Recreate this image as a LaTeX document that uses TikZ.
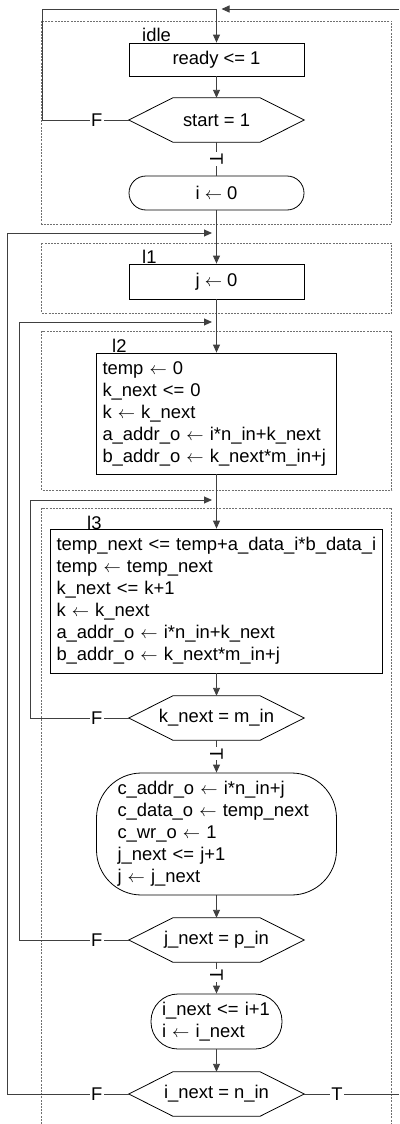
\documentclass[tikz,border=0pt]{standalone}
\usepackage{fontspec}
\setmainfont{Liberation Sans}
\usetikzlibrary{arrows.meta}
\definecolor{lineclr}{HTML}{404040}
\definecolor{grpclr}{HTML}{707070}
\newcommand\la{$\leftarrow$}
\newcommand\hexdraw[1]{\draw[boxline] (#1.west) -- ([xshift=44pt]#1.north west) -- ([xshift=-44pt]#1.north east) -- (#1.east) -- ([xshift=-44pt]#1.south east) -- ([xshift=44pt]#1.south west) -- cycle;}
\tikzset{
  every node/.style={font=\fontsize{18.4}{22}\selectfont},
  boxline/.style={draw=black, line width=0.8pt},
  box/.style={boxline, inner sep=0pt},
  rbox/.style={boxline, inner sep=0pt},
  hexn/.style={inner sep=0pt, minimum width=175pt, minimum height=44pt},
  flow/.style={draw=lineclr, line width=0.9pt},
  arr/.style={flow, -{Triangle[length=8pt,width=7pt]}},
  grp/.style={draw=grpclr, line width=0.7pt, dash pattern=on 2pt off 1.2pt},
  lbl/.style={fill=white, inner sep=1.5pt},
  tmark/.style={fill=white, inner sep=1pt, rotate=-90},
  tag/.style={anchor=west, inner sep=0pt}
}
\begin{document}
\begin{tikzpicture}[x=1pt,y=-1pt]
\useasboundingbox (0,0) rectangle (399,1124);
% groups
\draw[grp] (41.7,21) rectangle (391.7,224);
\draw[grp] (41.7,243) rectangle (391.7,313);
\draw[grp] (41.7,331) rectangle (391.7,490);
\draw[grp] (41.7,1124) -- (41.7,508) -- (391.7,508) -- (391.7,1124);
\node[tag] (tidle) at (142,35) {idle};
\node[tag] (tl1) at (142,257) {l1};
\node[tag] (tl2) at (112,346) {l2};
\node[tag] (tl3) at (87,523) {l3};
% nodes
\node[box, minimum width=175pt, minimum height=33pt] (ready) at (216.5,59.5) {ready <= 1};
\node[hexn] (start) at (216.5,120) {start = 1};
\hexdraw{start}
\node[rbox, minimum width=175pt, minimum height=34pt, rounded corners=17pt] (i0) at (216.5,193) {i \la{} 0};
\node[box, minimum width=175pt, minimum height=35pt] (j0) at (216.5,281.5) {j \la{} 0};
\node[box, minimum width=240pt, minimum height=121pt, text width=228pt, inner xsep=6pt, align=left] (l2b) at (216.5,413.5)
  {temp \la{} 0\\k\_next <= 0\\k \la{} k\_next\\a\_addr\_o \la{} i*n\_in+k\_next\\b\_addr\_o \la{} k\_next*m\_in+j};
\node[box, minimum width=332pt, minimum height=144pt, text width=320pt, inner xsep=6pt, align=left] (l3b) at (216.5,601)
  {temp\_next <= temp+a\_data\_i*b\_data\_i\\temp \la{} temp\_next\\k\_next <= k+1\\k \la{} k\_next\\a\_addr\_o \la{} i*n\_in+k\_next\\b\_addr\_o \la{} k\_next*m\_in+j};
\node[hexn] (kh) at (216.5,718) {k\_next = m\_in};
\hexdraw{kh}
\node[rbox, minimum width=240pt, minimum height=122pt, rounded corners=45pt, text width=198pt, inner xsep=21pt, align=left] (cb) at (216.5,834)
  {c\_addr\_o \la{} i*n\_in+j\\c\_data\_o \la{} temp\_next\\c\_wr\_o \la{} 1\\j\_next <= j+1\\j \la{} j\_next};
\node[hexn] (jh) at (216.5,940) {j\_next = p\_in};
\hexdraw{jh}
\node[rbox, minimum width=131pt, minimum height=55pt, rounded corners=27pt, text width=109pt, inner xsep=11pt, align=left] (ib) at (216.5,1021.5)
  {i\_next <= i+1\\i \la{} i\_next};
\node[hexn] (ih) at (216.5,1094) {i\_next = n\_in};
\hexdraw{ih}
% junction coordinates
\coordinate (jtop) at (216.5,9);
\coordinate (tin) at (399,9);
\coordinate (tout) at (399,1094);
\coordinate (m1) at (216.5,233);
\coordinate (m2) at (216.5,322);
\coordinate (m3) at (216.5,500);
% connectors
\draw[arr] (tin) -- ([xshift=5pt]jtop);
\draw[flow] (start.west) -- node[lbl, pos=0.372] {F} ++(-86,0) |- (jtop);
\draw[arr] (jtop) -- (ready);
\draw[arr] (ready) -- (start);
\draw[flow] (start) -- node[tmark] {T} (i0);
\draw[arr] (i0) -- (j0);
\draw[arr] (j0) -- (l2b);
\draw[arr] (l2b) -- (l3b);
\draw[arr] (l3b) -- (kh);
\draw[arr] (kh) -- node[tmark, pos=0.42] {T} (cb);
\draw[arr] (cb) -- (jh);
\draw[arr] (jh) -- node[tmark, pos=0.42] {T} (ib);
\draw[arr] (ib) -- (ih);
\draw[arr] (kh.west) -- node[lbl, pos=0.327] {F} ++(-98,0) |- ([xshift=-4.5pt]m3);
\draw[arr] (jh.west) -- node[lbl, pos=0.294] {F} ++(-109,0) |- ([xshift=-4.5pt]m2);
\draw[arr] (ih.west) -- node[lbl, pos=0.264] {F} ++(-121,0) |- ([xshift=-4.5pt]m1);
\draw[flow] (ih.east) -- node[lbl, pos=0.347] {T} (tout);
\end{tikzpicture}
\end{document}
